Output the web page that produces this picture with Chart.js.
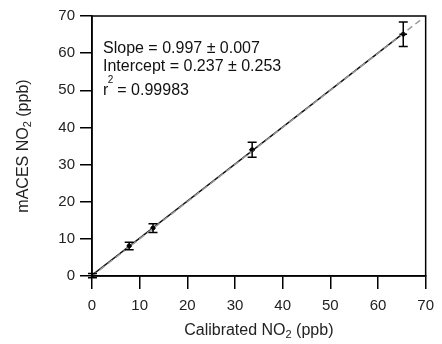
<!DOCTYPE html>
<html><head><meta charset="utf-8">
<script src="https://cdn.jsdelivr.net/npm/chart.js@4"></script>
<style>html,body{margin:0;padding:0;background:#fff;}#wrap{width:442px;height:344px;}</style>
</head><body><div id="wrap"><canvas id="c" width="442" height="344"></canvas></div>
<script>
const calibrated = [0.1, 7.8, 12.8, 33.6, 65.3];
const maces     = [0.1, 8.1, 12.9, 34.0, 65.1];
const macesErr  = [0.6, 1.0, 1.2, 2.0, 3.3];
const calibErr  = [0.3, 0.5, 0.5, 0.6, 0.8];
const fitX = [0, 65.3];
const fitY = [0.24, 65.3];
const oneToOneX = [0, 69.5];
const oneToOneY = [0, 69.5];
const tickValues = [0, 10, 20, 30, 40, 50, 60, 70];
const annotation = ["Slope = 0.997 \u00b1 0.007", "Intercept = 0.237 \u00b1 0.253", "r", "2", " = 0.99983"];
const xTitle = ["Calibrated NO", "2", " (ppb)"];
const yTitle = ["mACES NO", "2", " (ppb)"];

const FONT = '"Liberation Sans", Arial, sans-serif';

function drawSubTitle(ctx, parts, cx, by) {
  ctx.font = '16px ' + FONT;
  const w1 = ctx.measureText(parts[0]).width, w3 = ctx.measureText(parts[2]).width;
  ctx.font = '11px ' + FONT;
  const w2 = ctx.measureText(parts[1]).width;
  const sx = cx - (w1 + w2 + w3) / 2;
  ctx.font = '16px ' + FONT; ctx.fillText(parts[0], sx, by);
  ctx.font = '11px ' + FONT; ctx.fillText(parts[1], sx + w1, by + 3);
  ctx.font = '16px ' + FONT; ctx.fillText(parts[2], sx + w1 + w2, by);
}

const errPlugin = {
  id: 'errbars',
  beforeDatasetsDraw(chart) {
    const ctx = chart.ctx, a = chart.chartArea;
    ctx.save();
    ctx.fillStyle = '#fff';
    ctx.fillRect(a.left + 6, a.top + 21, 185, 62);
    ctx.restore();
  },
  afterDatasetsDraw(chart) {
    const ctx = chart.ctx, xs = chart.scales.x, ys = chart.scales.y;
    ctx.save();
    ctx.strokeStyle = '#000'; ctx.lineWidth = 1.5;
    for (let i = 0; i < calibrated.length; i++) {
      const px = xs.getPixelForValue(calibrated[i]);
      const py = ys.getPixelForValue(maces[i]);
      const y1 = ys.getPixelForValue(maces[i] + macesErr[i]);
      const y2 = ys.getPixelForValue(maces[i] - macesErr[i]);
      const x1 = xs.getPixelForValue(calibrated[i] - calibErr[i]);
      const x2 = xs.getPixelForValue(calibrated[i] + calibErr[i]);
      ctx.beginPath();
      ctx.moveTo(px, y1); ctx.lineTo(px, y2);
      ctx.moveTo(px - 4.5, y1); ctx.lineTo(px + 4.5, y1);
      ctx.moveTo(px - 4.5, y2); ctx.lineTo(px + 4.5, y2);
      ctx.moveTo(x1, py); ctx.lineTo(x2, py);
      ctx.stroke();
    }
    ctx.restore();
  },
  afterDraw(chart) {
    const ctx = chart.ctx, a = chart.chartArea;
    ctx.save();
    ctx.strokeStyle = '#000'; ctx.lineWidth = 1.5;
    ctx.strokeRect(a.left, a.top, a.right - a.left, a.bottom - a.top);
    // annotation
    ctx.fillStyle = '#111';
    ctx.textBaseline = 'alphabetic';
    ctx.textAlign = 'left';
    const tx = a.left + 11;
    ctx.font = '16px ' + FONT;
    ctx.fillText(annotation[0], tx, a.top + 37);
    ctx.fillText(annotation[1], tx, a.top + 55);
    ctx.fillText(annotation[2], tx, a.top + 79);
    const rw = ctx.measureText(annotation[2]).width;
    ctx.font = '10px ' + FONT;
    ctx.fillText(annotation[3], tx + rw - 0.5, a.top + 67);
    const sw = ctx.measureText(annotation[3]).width;
    ctx.font = '16px ' + FONT;
    ctx.fillText(annotation[4], tx + rw + sw - 1, a.top + 79);
    // x title
    ctx.fillStyle = '#222';
    drawSubTitle(ctx, xTitle, (a.left + a.right) / 2, 335);
    // y title
    ctx.save();
    ctx.translate(28, (a.top + a.bottom) / 2);
    ctx.rotate(-Math.PI / 2);
    drawSubTitle(ctx, yTitle, 0, 0);
    ctx.restore();
    ctx.restore();
  }
};

new Chart(document.getElementById('c'), {
  type: 'scatter',
  data: {
    datasets: [
      {
        type: 'line',
        data: oneToOneX.map((x, i) => ({x, y: oneToOneY[i]})),
        borderColor: '#9a9a9a', borderWidth: 1.5, borderDash: [6, 4],
        pointRadius: 0, fill: false
      },
      {
        type: 'line',
        data: fitX.map((x, i) => ({x, y: fitY[i]})),
        borderColor: '#111', borderWidth: 1.5,
        pointRadius: 0, fill: false
      },
      {
        data: calibrated.map((x, i) => ({x, y: maces[i]})),
        backgroundColor: '#000', borderColor: '#000',
        pointRadius: 2, pointStyle: 'circle'
      }
    ]
  },
  options: {
    responsive: false, animation: false,
    devicePixelRatio: 1,
    layout: { padding: { left: 0, right: 12, top: 16, bottom: 0 } },
    plugins: { legend: { display: false }, tooltip: { enabled: false } },
    scales: {
      x: {
        type: 'linear', min: 0, max: 70,
        afterBuildTicks(s) { s.ticks = tickValues.map(v => ({value: v})); },
        afterFit(s) { s.height = 68; },
        border: { display: true, color: '#000', width: 1.5 },
        grid: { drawOnChartArea: false, drawTicks: true, tickLength: 13, color: '#000', lineWidth: 1.5 },
        ticks: { color: '#222', font: { family: FONT, size: 15 }, padding: 8, maxRotation: 0 }
      },
      y: {
        type: 'linear', min: 0, max: 70,
        afterBuildTicks(s) { s.ticks = tickValues.map(v => ({value: v})); },
        afterFit(s) { s.width = 92; },
        border: { display: true, color: '#000', width: 1.5 },
        grid: { drawOnChartArea: false, drawTicks: true, tickLength: 12, color: '#000', lineWidth: 1.5 },
        ticks: { color: '#222', font: { family: FONT, size: 15 }, padding: 5 }
      }
    }
  },
  plugins: [errPlugin]
});
</script></body></html>
